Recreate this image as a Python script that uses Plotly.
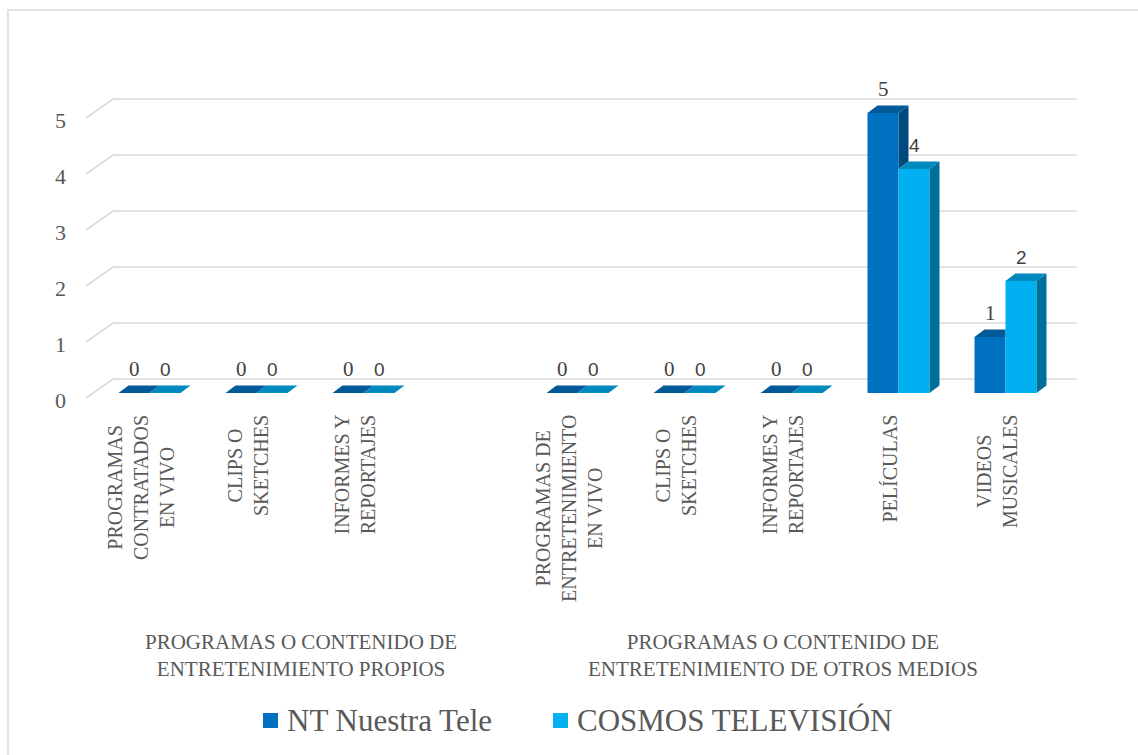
import plotly.graph_objects as go

# ---- data -------------------------------------------------------------
group_labels = [
    "PROGRAMAS O CONTENIDO DE<br>ENTRETENIMIENTO PROPIOS",
    "PROGRAMAS O CONTENIDO DE<br>ENTRETENIMIENTO DE OTROS MEDIOS",
]
# sub-categories per group ("" = empty slot at the end of the first group)
group_items = [
    ["PROGRAMAS<br>CONTRATADOS<br>EN VIVO", "CLIPS O<br>SKETCHES", "INFORMES Y<br>REPORTAJES", ""],
    ["PROGRAMAS DE<br>ENTRETENIMIENTO<br>EN VIVO", "CLIPS O<br>SKETCHES", "INFORMES Y<br>REPORTAJES",
     "PELÍCULAS", "VIDEOS<br>MUSICALES"],
]
series_names = ["NT Nuestra Tele", "COSMOS TELEVISIÓN"]
nt_values = [0, 0, 0, None, 0, 0, 0, 5, 1]
cosmos_values = [0, 0, 0, None, 0, 0, 0, 4, 2]
y_ticks = [0, 1, 2, 3, 4, 5]

# ---- geometry / style -------------------------------------------------
W_PX, H_PX = 1138, 755
X_UNIT, Y_UNIT = 107.0, 56.0      # px per category slot / per value unit
X0, Y0 = 149.5, 393.0             # pixel position of slot 0 / value 0
L, R, T, B = 60, 1100, 60, 420    # plot area in pixels

def px_x(px):
    return (px - X0) / X_UNIT

def px_y_off(dpx):
    return dpx / Y_UNIT

def paper_x(px):
    return (px - L) / (R - L)

def paper_y(py):
    return (B - py) / (B - T)

BAR_W = 31 / X_UNIT
DX, DY = 10 / X_UNIT, 7.5 / Y_UNIT   # 3-D depth of the columns

NT_FRONT, NT_TOP, NT_SIDE = "#0070c0", "#005a99", "#004a80"
CO_FRONT, CO_TOP, CO_SIDE = "#00b0f0", "#0089bf", "#00709a"
series_colors = [NT_FRONT, CO_FRONT]
GRID = "#d9d9d9"
TXT = "#595959"
LBL = "#404040"
SERIF = "Liberation Serif"
SANS = "Liberation Sans"

slots = [s for g in group_items for s in g]
positions = list(range(len(slots)))

fig = go.Figure()
fig.add_bar(x=positions, y=nt_values, name=series_names[0], offset=-BAR_W, width=BAR_W,
            marker=dict(color=NT_FRONT, line=dict(width=0)), showlegend=False)
fig.add_bar(x=positions, y=cosmos_values, name=series_names[1], offset=0, width=BAR_W,
            marker=dict(color=CO_FRONT, line=dict(width=0)), showlegend=False)

shapes = []

# walls: gridlines along the left wall edge and the back wall
front_left_x = px_x(86)
back_left_x = px_x(113)
back_right_x = px_x(1077)
for v in y_ticks:
    yf = v - px_y_off(5)
    yb = v + px_y_off(14)
    shapes.append(dict(type="path", xref="x", yref="y", layer="below",
                       path=f"M{front_left_x},{yf} L{back_left_x},{yb} L{back_right_x},{yb}",
                       line=dict(color=GRID, width=1.6)))

def poly(points, color):
    d = "M" + " L".join(f"{x},{y}" for x, y in points) + " Z"
    return dict(type="path", xref="x", yref="y", layer="above", path=d,
                fillcolor=color, line=dict(width=0))

annotations = []
for p, n, c in zip(positions, nt_values, cosmos_values):
    if n is None or c is None:
        continue
    xl, xm, xr = p - BAR_W, p, p + BAR_W
    # NT column: top face (clipped where the COSMOS column is taller) and side face
    if c > n:
        shapes.append(poly([(xl, n), (xm, n), (xm, n + DY), (xl + DX, n + DY)], NT_TOP))
    else:
        shapes.append(poly([(xl, n), (xm, n), (xm + DX, n + DY), (xl + DX, n + DY)], NT_TOP))
        if n > c:
            shapes.append(poly([(xm, c), (xm, n), (xm + DX, n + DY), (xm + DX, c + DY)], NT_SIDE))
    # COSMOS column
    shapes.append(poly([(xm, c), (xr, c), (xr + DX, c + DY), (xm + DX, c + DY)], CO_TOP))
    if c > 0:
        shapes.append(poly([(xr, 0), (xr, c), (xr + DX, c + DY), (xr + DX, DY)], CO_SIDE))
    # value labels
    annotations.append(dict(x=p - BAR_W / 2, y=n, xref="x", yref="y", text=str(n),
                            showarrow=False, yanchor="middle", yshift=24,
                            font=dict(family=SERIF, size=21, color=LBL)))
    annotations.append(dict(x=p + BAR_W / 2, y=c, xref="x", yref="y", text=str(c),
                            showarrow=False, yanchor="middle", yshift=24,
                            font=dict(family=SANS, size=19, color=LBL)))

# value axis labels
for v in y_ticks:
    annotations.append(dict(x=paper_x(68), xref="paper", y=v, yref="y", yshift=-7,
                            text=str(v), showarrow=False, xanchor="right", yanchor="middle",
                            font=dict(family=SERIF, size=22, color=TXT)))

# category labels (rotated) and group labels
for p, s in zip(positions, slots):
    if s:
        annotations.append(dict(x=p, xref="x", xshift=-9, y=paper_y(413), yref="paper",
                                text=s, showarrow=False, textangle=-90, align="center",
                                xanchor="center", yanchor="top",
                                font=dict(family=SERIF, size=20, color=TXT)))
start = 0
for g, items in zip(group_labels, group_items):
    centre = start + (len(items) - 1) / 2
    annotations.append(dict(x=centre, xref="x", xshift=-9, y=paper_y(655), yref="paper",
                            text=g, showarrow=False, align="center",
                            xanchor="center", yanchor="middle",
                            font=dict(family=SERIF, size=21, color=TXT)))
    start += len(items)

# legend: coloured squares with series names
legend_square_x = [263, 553]
for name, color, sx in zip(series_names, series_colors, legend_square_x):
    shapes.append(dict(type="rect", xref="paper", yref="paper", layer="above",
                       x0=paper_x(sx), x1=paper_x(sx + 15), y0=paper_y(728), y1=paper_y(713),
                       fillcolor=color, line=dict(width=0)))
    annotations.append(dict(x=paper_x(sx + 22), xref="paper", y=paper_y(720), yref="paper",
                            text=name, showarrow=False, xanchor="left", yanchor="middle",
                            font=dict(family=SERIF, size=31, color=TXT)))

# chart border
shapes.append(dict(type="rect", xref="paper", yref="paper", layer="below",
                   x0=paper_x(8), x1=paper_x(1170), y0=paper_y(10), y1=paper_y(790),
                   line=dict(color=GRID, width=1.5), fillcolor="rgba(0,0,0,0)"))

fig.update_layout(
    width=W_PX, height=H_PX,
    margin=dict(l=L, r=W_PX - R, t=T, b=H_PX - B),
    paper_bgcolor="white", plot_bgcolor="white",
    barmode="overlay",
    xaxis=dict(range=[px_x(L), px_x(R)], visible=False, fixedrange=True),
    yaxis=dict(range=[(Y0 - B) / Y_UNIT, (Y0 - T) / Y_UNIT], visible=False, fixedrange=True),
    shapes=shapes,
    annotations=annotations,
    showlegend=False,
)

fig.write_html("out.html")
